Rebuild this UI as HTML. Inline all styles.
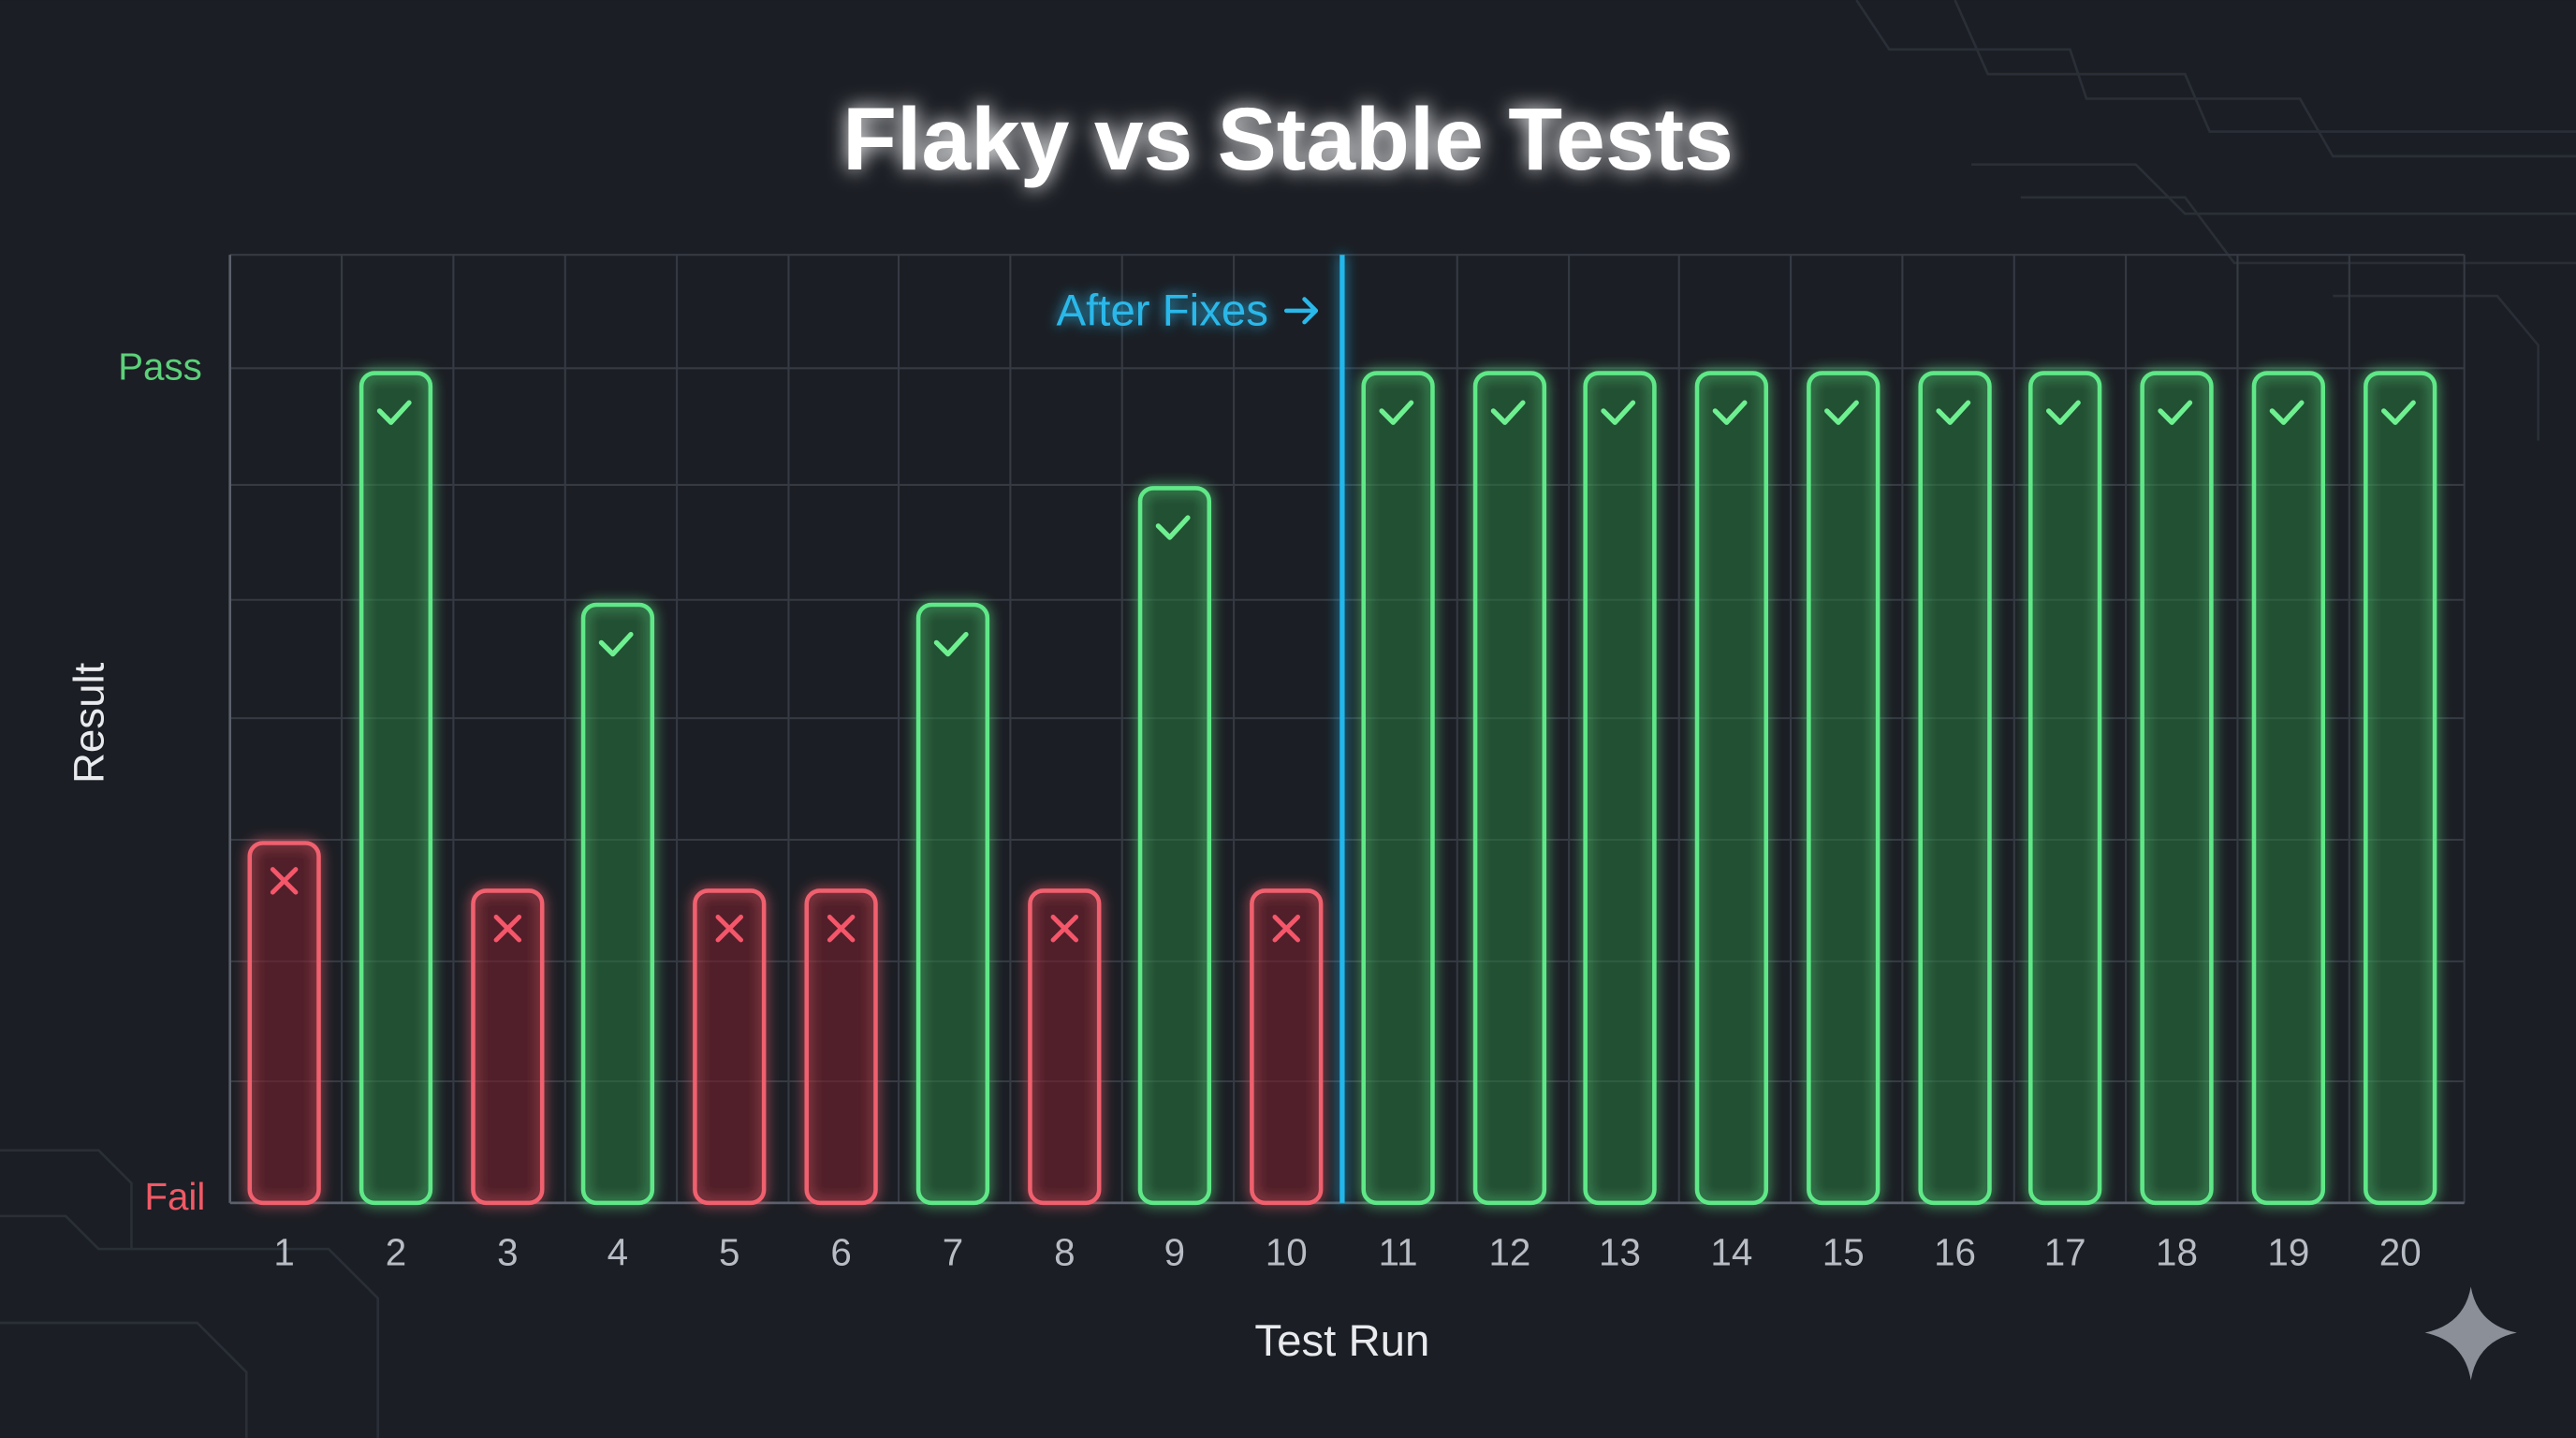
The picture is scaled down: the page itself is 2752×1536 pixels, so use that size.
<!DOCTYPE html>
<html><head><meta charset="utf-8"><style>
html,body{margin:0;padding:0;background:#1b1e24;}
svg{display:block;}
text{font-family:"Liberation Sans",sans-serif;}
</style></head><body>
<svg width="2752" height="1536" viewBox="0 0 1568 875" xmlns="http://www.w3.org/2000/svg">
<defs>
<filter id="glow" filterUnits="userSpaceOnUse" x="0" y="0" width="1568" height="875">
<feGaussianBlur in="SourceGraphic" stdDeviation="4" result="b"/>
<feMerge><feMergeNode in="b"/><feMergeNode in="SourceGraphic"/></feMerge>
</filter>
<filter id="tglow" filterUnits="userSpaceOnUse" x="0" y="0" width="1568" height="875">
<feGaussianBlur in="SourceGraphic" stdDeviation="6" result="b"/>
<feMerge><feMergeNode in="b"/><feMergeNode in="SourceGraphic"/></feMerge>
</filter>
</defs>
<rect width="1568" height="875" fill="#1b1e24"/>
<!-- circuit decorations -->
<g stroke="#2a2f37" stroke-width="1.5" fill="none">
<path d="M1130 0 L1150 30 L1260 30 L1270 60 L1400 60 L1420 95 L1568 95"/>
<path d="M1190 0 L1210 45 L1330 45 L1345 80 L1568 80"/>
<path d="M1200 100 L1300 100 L1330 130 L1568 130"/>
<path d="M1230 120 L1330 120 L1360 160 L1568 160"/>
<path d="M1420 180 L1520 180 L1545 210 L1545 268"/>
<path d="M0 700 L60 700 L80 720 L80 760"/>
<path d="M0 740 L40 740 L60 760 L200 760 L230 790 L230 875"/>
<path d="M0 805 L120 805 L150 835 L150 875"/>
</g>
<!-- grid -->
<g stroke="#353a43" stroke-width="1.2">
<line x1="140" y1="155" x2="1500" y2="155"/>
<line x1="140" y1="224" x2="1500" y2="224"/>
<line x1="140" y1="295" x2="1500" y2="295"/>
<line x1="140" y1="365" x2="1500" y2="365"/>
<line x1="140" y1="437" x2="1500" y2="437"/>
<line x1="140" y1="511" x2="1500" y2="511"/>
<line x1="140" y1="585" x2="1500" y2="585"/>
<line x1="140" y1="658" x2="1500" y2="658"/>
<line x1="208" y1="155" x2="208" y2="732"/><line x1="276" y1="155" x2="276" y2="732"/>
<line x1="344" y1="155" x2="344" y2="732"/><line x1="412" y1="155" x2="412" y2="732"/>
<line x1="480" y1="155" x2="480" y2="732"/><line x1="547" y1="155" x2="547" y2="732"/>
<line x1="615" y1="155" x2="615" y2="732"/><line x1="683" y1="155" x2="683" y2="732"/>
<line x1="751" y1="155" x2="751" y2="732"/><line x1="887" y1="155" x2="887" y2="732"/>
<line x1="955" y1="155" x2="955" y2="732"/><line x1="1022" y1="155" x2="1022" y2="732"/>
<line x1="1090" y1="155" x2="1090" y2="732"/><line x1="1158" y1="155" x2="1158" y2="732"/>
<line x1="1226" y1="155" x2="1226" y2="732"/><line x1="1294" y1="155" x2="1294" y2="732"/>
<line x1="1362" y1="155" x2="1362" y2="732"/><line x1="1430" y1="155" x2="1430" y2="732"/>
<line x1="1500" y1="155" x2="1500" y2="732"/>
</g>
<line x1="140" y1="155" x2="140" y2="732" stroke="#5a606b" stroke-width="1.5"/>
<line x1="140" y1="732" x2="1500" y2="732" stroke="#5a606b" stroke-width="1.5"/>
<!-- bars -->
<g filter="url(#glow)" stroke-width="2.6">
<g fill="rgba(120,35,45,0.35)" stroke="#f0606e">
<rect x="152" y="513" width="42" height="219" rx="8"/>
<rect x="288" y="542" width="42" height="190" rx="8"/>
<rect x="423" y="542" width="42" height="190" rx="8"/>
<rect x="491" y="542" width="42" height="190" rx="8"/>
<rect x="627" y="542" width="42" height="190" rx="8"/>
<rect x="762" y="542" width="42" height="190" rx="8"/>
</g>
<g fill="rgba(45,120,65,0.32)" stroke="#5ee887">
<rect x="220" y="227" width="42" height="505" rx="8"/>
<rect x="355" y="368" width="42" height="364" rx="8"/>
<rect x="559" y="368" width="42" height="364" rx="8"/>
<rect x="694" y="297" width="42" height="435" rx="8"/>
<rect x="830" y="227" width="42" height="505" rx="8"/>
<rect x="898" y="227" width="42" height="505" rx="8"/>
<rect x="965" y="227" width="42" height="505" rx="8"/>
<rect x="1033" y="227" width="42" height="505" rx="8"/>
<rect x="1101" y="227" width="42" height="505" rx="8"/>
<rect x="1169" y="227" width="42" height="505" rx="8"/>
<rect x="1236" y="227" width="42" height="505" rx="8"/>
<rect x="1304" y="227" width="42" height="505" rx="8"/>
<rect x="1372" y="227" width="42" height="505" rx="8"/>
<rect x="1440" y="227" width="42" height="505" rx="8"/>
</g>
</g>
<!-- marks -->
<g stroke="#6ef090" stroke-width="3" fill="none" stroke-linecap="round" stroke-linejoin="round">
<path d="M231 250 l7 7 l11 -12"/>
<path d="M366 391 l7 7 l11 -12"/>
<path d="M570 391 l7 7 l11 -12"/>
<path d="M705 320 l7 7 l11 -12"/>
<path d="M841 250 l7 7 l11 -12"/><path d="M909 250 l7 7 l11 -12"/>
<path d="M976 250 l7 7 l11 -12"/><path d="M1044 250 l7 7 l11 -12"/>
<path d="M1112 250 l7 7 l11 -12"/><path d="M1180 250 l7 7 l11 -12"/>
<path d="M1247 250 l7 7 l11 -12"/><path d="M1315 250 l7 7 l11 -12"/>
<path d="M1383 250 l7 7 l11 -12"/><path d="M1451 250 l7 7 l11 -12"/>
</g>
<g stroke="#f5566a" stroke-width="2.8" stroke-linecap="round">
<path d="M166 529 l14 14 M180 529 l-14 14"/>
<path d="M302 558 l14 14 M316 558 l-14 14"/>
<path d="M437 558 l14 14 M451 558 l-14 14"/>
<path d="M505 558 l14 14 M519 558 l-14 14"/>
<path d="M641 558 l14 14 M655 558 l-14 14"/>
<path d="M776 558 l14 14 M790 558 l-14 14"/>
</g>
<!-- after fixes line -->
<rect x="815.5" y="155" width="3" height="577" fill="#22b8ec" filter="url(#glow)"/>
<text x="772" y="198" text-anchor="end" font-size="27" fill="#2ab8ea" filter="url(#glow)">After Fixes</text>
<path d="M783 189 h18 M794 182 l7 7 l-7 7" stroke="#2ab8ea" stroke-width="2.6" fill="none" stroke-linecap="round" stroke-linejoin="round"/>
<!-- title -->
<text x="784" y="103" text-anchor="middle" font-size="54" font-weight="bold" fill="#ffffff" filter="url(#tglow)">Flaky vs Stable Tests</text>
<!-- y labels -->
<text x="123" y="231" text-anchor="end" font-size="23" fill="#5cd17a">Pass</text>
<text x="125" y="736" text-anchor="end" font-size="23" fill="#f05a66">Fail</text>
<text transform="translate(63,440) rotate(-90)" text-anchor="middle" font-size="26" fill="#e8eaee">Result</text>
<!-- x ticks -->
<g font-size="23" fill="#b8bcc4" text-anchor="middle">
<text x="173" y="770">1</text><text x="241" y="770">2</text><text x="309" y="770">3</text>
<text x="376" y="770">4</text><text x="444" y="770">5</text><text x="512" y="770">6</text>
<text x="580" y="770">7</text><text x="648" y="770">8</text><text x="715" y="770">9</text>
<text x="783" y="770">10</text><text x="851" y="770">11</text><text x="919" y="770">12</text>
<text x="986" y="770">13</text><text x="1054" y="770">14</text><text x="1122" y="770">15</text>
<text x="1190" y="770">16</text><text x="1257" y="770">17</text><text x="1325" y="770">18</text>
<text x="1393" y="770">19</text><text x="1461" y="770">20</text>
</g>
<text x="817" y="825" text-anchor="middle" font-size="27" fill="#e8eaee">Test Run</text>
<!-- sparkle -->
<path d="M1504 783 Q1508 806 1532 811 Q1508 816 1504 840 Q1500 816 1476 811 Q1500 806 1504 783 Z" fill="#8a8f98"/>
</svg>
</body></html>
